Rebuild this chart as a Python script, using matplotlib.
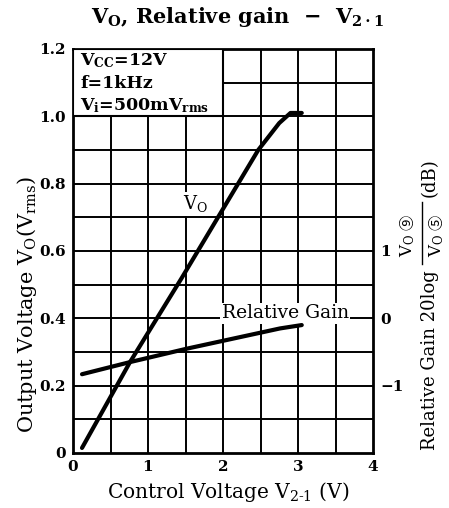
import matplotlib
matplotlib.use("Agg")
import matplotlib.pyplot as plt
from matplotlib.patches import Rectangle

# ---- data ----
vo_x = [0.12, 0.76, 1.45, 1.96, 2.47, 2.75, 2.90, 3.05]
vo_y = [0.015, 0.27, 0.52, 0.71, 0.90, 0.98, 1.01, 1.01]

gain_x = [0.12, 0.76, 1.52, 2.76, 3.05]
gain_db = [-0.83, -0.65, -0.45, -0.15, -0.10]

x_ticks = [0, 1, 2, 3, 4]
y_ticks = [0, 0.2, 0.4, 0.6, 0.8, 1.0, 1.2]
y_tick_labels = ["0", "0.2", "0.4", "0.6", "0.8", "1.0", "1.2"]
gain_ticks = [1, 0, -1]
gain_tick_labels = ["1", "0", "\u22121"]
cond_lines = ["V$_{\\mathbf{CC}}$=12V", "f=1kHz", "V$_{\\mathbf{i}}$=500mV$_{\\mathbf{rms}}$"]

plt.rcParams["font.family"] = ["DejaVu Serif"]
plt.rcParams["mathtext.fontset"] = "dejavuserif"

W, H = 449, 508
fig = plt.figure(figsize=(W/100, H/100), dpi=100)
ax = fig.add_axes([73/W, 1-453/H, 300/W, (453-49)/H])
ax.set_xlim(0, 4)
ax.set_ylim(0, 1.2)

# grid
for gx in [0.5*i for i in range(1, 8)]:
    ax.axvline(gx, color="black", lw=1.4, zorder=1)
for gy in [0.1*i for i in range(1, 12)]:
    ax.axhline(gy, color="black", lw=1.4, zorder=1)

for s in ax.spines.values():
    s.set_linewidth(2.0)

ax.set_xticks(x_ticks)
ax.set_xticklabels([str(t) for t in x_ticks], fontweight="bold", fontsize=11)
ax.set_yticks(y_ticks)
ax.set_yticklabels(y_tick_labels, fontweight="bold", fontsize=11)
ax.tick_params(length=0, pad=5)

# condition box
ax.add_patch(Rectangle((0, 1.0), 2.0, 0.2, facecolor="white", edgecolor="black",
                       lw=1.5, zorder=3))
for i, t in enumerate(cond_lines):
    ax.text(0.1, 1.165 - i*0.066, t, fontsize=12.5, fontweight="bold",
            va="center", ha="left", zorder=4)

# curves
ax.plot(vo_x, vo_y, color="black", lw=3.0, solid_capstyle="round", zorder=5)
gain_left = [0.4 + 0.2*g for g in gain_db]
ax.plot(gain_x, gain_left, color="black", lw=3.0, solid_capstyle="round", zorder=5)

ax.text(1.47, 0.74, "V$_{\\mathrm{O}}$", fontsize=13, ha="left", va="center",
        zorder=4, bbox=dict(facecolor="white", edgecolor="none", pad=1))
ax.text(2.83, 0.415, "Relative Gain", fontsize=13.5, ha="center", va="center",
        zorder=4, bbox=dict(facecolor="white", edgecolor="none", pad=1))

# right axis
ax2 = ax.twinx()
ax2.set_ylim(-2, 4)
ax2.set_yticks(gain_ticks)
ax2.set_yticklabels(gain_tick_labels, fontweight="bold", fontsize=11)
ax2.tick_params(length=0, pad=5)
for s in ax2.spines.values():
    s.set_visible(False)

# labels
fig.text(0.53, 1-17/H, "V$_{\\mathbf{O}}$, Relative gain  \u2212  V$_{\\mathbf{2\\cdot1}}$",
         fontsize=15, fontweight="bold", ha="center", va="center")
fig.text(228/W, 1-492/H, "Control Voltage V$_{\\mathrm{2\\text{-}1}}$ (V)", fontsize=14.5,
         ha="center", va="center")
fig.text(27/W, 1-305/H, "Output Voltage V$_{\\mathrm{O}}$(V$_{\\mathrm{rms}}$)", fontsize=15,
         ha="center", va="center", rotation=90)

# right label: Relative Gain 20log Vo9/Vo5 (dB)
fig.text(430/W, 1-360/H, "Relative Gain 20log", rotation=90, fontsize=13,
         ha="center", va="center")
CIRC = ["Noto Sans CJK JP", "DejaVu Sans"]
for xc, digit in [(408, "\u2468"), (437, "\u2464")]:
    fig.text(xc/W, 1-245/H, "V$_{\\mathrm{O}}$", rotation=90, fontsize=12,
             ha="center", va="center")
    fig.text(xc/W, 1-222/H, digit, rotation=90, fontsize=11,
             ha="center", va="center", family=CIRC)
fig.add_artist(plt.Line2D([422/W, 422/W], [1-264/H, 1-202/H],
                          transform=fig.transFigure, color="black", lw=1))
fig.text(430/W, 1-178/H, "(dB)", rotation=90, fontsize=13,
         ha="center", va="center")

fig.savefig("out.png", dpi=100)
